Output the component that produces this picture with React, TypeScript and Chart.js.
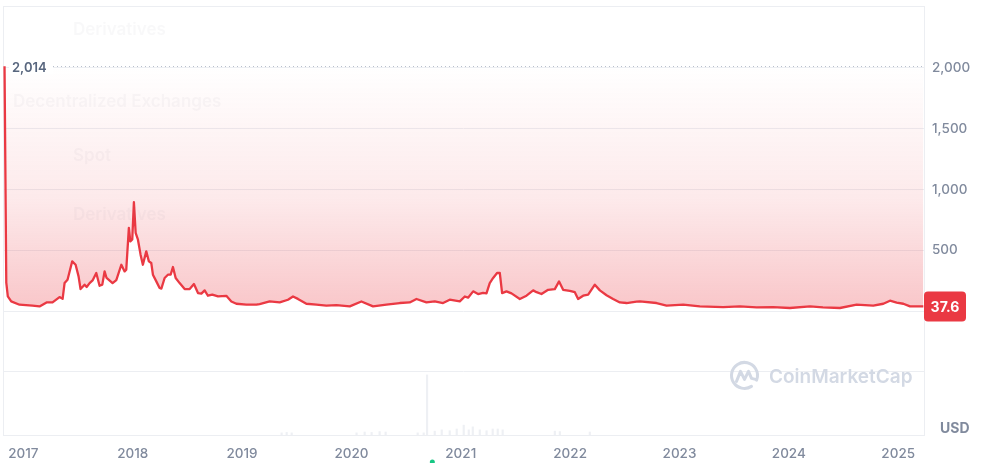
import { useEffect, useRef } from 'react';
import { Chart, registerables } from 'chart.js';

Chart.register(...registerables);

// ---- data (decimal years, USD) ----
const priceDates = [
  2016.828, 2016.844, 2016.858, 2016.889, 2016.965, 2017.084, 2017.148, 2017.212, 2017.267, 2017.331,
  2017.359, 2017.377, 2017.404, 2017.447, 2017.478, 2017.505, 2017.523, 2017.56, 2017.579, 2017.606,
  2017.633, 2017.667, 2017.697, 2017.722, 2017.743, 2017.761, 2017.816, 2017.85, 2017.896, 2017.926,
  2017.941, 2017.965, 2017.978, 2017.996, 2018.011, 2018.027, 2018.048, 2018.072, 2018.093, 2018.124,
  2018.148, 2018.17, 2018.185, 2018.216, 2018.246, 2018.262, 2018.292, 2018.322, 2018.347, 2018.368,
  2018.393, 2018.429, 2018.475, 2018.521, 2018.56, 2018.597, 2018.628, 2018.658, 2018.688, 2018.728,
  2018.78, 2018.856, 2018.902, 2018.948, 2019.039, 2019.131, 2019.161, 2019.252, 2019.344, 2019.42,
  2019.466, 2019.511, 2019.588, 2019.68, 2019.771, 2019.863, 2019.985, 2020.091, 2020.198, 2020.32,
  2020.442, 2020.533, 2020.595, 2020.686, 2020.762, 2020.838, 2020.899, 2020.991, 2021.037, 2021.067,
  2021.113, 2021.158, 2021.204, 2021.235, 2021.265, 2021.296, 2021.332, 2021.357, 2021.378, 2021.418,
  2021.464, 2021.54, 2021.601, 2021.662, 2021.693, 2021.738, 2021.799, 2021.86, 2021.899, 2021.936,
  2021.997, 2022.043, 2022.073, 2022.119, 2022.165, 2022.226, 2022.272, 2022.333, 2022.393, 2022.455,
  2022.516, 2022.607, 2022.638, 2022.79, 2022.882, 2023.034, 2023.186, 2023.4, 2023.552, 2023.705,
  2023.855, 2024.01, 2024.193, 2024.312, 2024.467, 2024.62, 2024.772, 2024.864, 2024.925, 2024.986,
  2025.047, 2025.108, 2025.23,
];
const priceValues = [
  2014, 233, 120, 79, 52, 44, 38, 71, 71, 115,
  100, 230, 258, 409, 381, 285, 181, 217, 198, 230,
  252, 313, 208, 217, 326, 272, 230, 255, 381, 326,
  340, 684, 573, 590, 895, 643, 587, 464, 381, 491,
  409, 395, 299, 244, 190, 185, 272, 299, 299, 362,
  272, 230, 181, 181, 222, 148, 143, 170, 126, 135,
  120, 125, 79, 60, 52, 52, 57, 79, 71, 93,
  120, 100, 60, 52, 44, 49, 38, 79, 38, 52,
  66, 71, 99, 71, 79, 66, 93, 79, 120, 110,
  162, 140, 150, 145, 230, 272, 313, 313, 148, 162,
  145, 99, 126, 170, 155, 140, 175, 180, 244, 175,
  165, 155, 99, 126, 135, 217, 170, 130, 99, 71,
  66, 77, 79, 66, 44, 52, 38, 33, 38, 30,
  33, 25, 38, 30, 25, 52, 44, 60, 85, 70,
  60, 38, 37.6,
];
const volumeDates = [
  2019.362, 2019.408, 2019.454, 2020.047, 2020.121, 2020.185, 2020.258, 2020.313, 2020.606, 2020.661,
  2020.692, 2020.762, 2020.826, 2020.899, 2020.963, 2021.027, 2021.073, 2021.11, 2021.174, 2021.236,
  2021.292, 2021.338, 2021.383, 2021.86, 2021.906, 2022.18,
];
const volumeValues = [
  5, 6, 5, 5, 7, 6, 8, 7, 5, 5,
  140, 9, 12, 10, 14, 23, 12, 19, 12, 10,
  14, 14, 12, 9, 8, 7,
];
const yearTicks = [2017, 2018, 2019, 2020, 2021, 2022, 2023, 2024, 2025];
const priceTicks = [-500, 0, 500, 1000, 1500, 2000];
const athValue = 2014;
const lastValue = 37.6;
const eventDate = 2020.74;
const ghostMenu = ['Derivatives', 'Decentralized Exchanges', 'Spot', 'Derivatives'];

const RED = '#ea3943';
const GRID = '#eceef2';
const FONT = 'Inter, "Noto Sans", sans-serif';

export default function App() {
  const ref = useRef<HTMLCanvasElement | null>(null);

  useEffect(() => {
    document.body.style.margin = '0';
    const canvas = ref.current;
    if (!canvas) return;

    const overlay = {
      id: 'cmcOverlay',
      beforeDatasetsDraw(chart: any) {
        const { ctx, chartArea: a } = chart;
        ctx.save();
        ctx.strokeStyle = GRID;
        ctx.lineWidth = 1;
        ctx.strokeRect(Math.round(a.left) + 0.5, Math.round(a.top) + 0.5, Math.round(a.right - a.left), Math.round(a.bottom - a.top));
        ctx.restore();
      },
      afterDatasetsDraw(chart: any) {
        const { ctx, chartArea: a, scales } = chart;
        const y = scales.y;
        const x = scales.x;
        ctx.save();

        // ghost menu text
        ctx.font = `600 17px ${FONT}`;
        ctx.fillStyle = 'rgba(90,90,110,0.045)';
        ctx.textBaseline = 'middle';
        ctx.textAlign = 'left';
        const ghostPos = [
          [73, 30],
          [13, 102],
          [73, 156],
          [73, 215],
        ];
        ghostMenu.forEach((t, i) => ctx.fillText(t, ghostPos[i][0], ghostPos[i][1]));

        // ATH dotted line + label
        const ay = Math.round(y.getPixelForValue(athValue)) + 0.5;
        ctx.strokeStyle = '#b8bfcc';
        ctx.lineWidth = 1;
        ctx.setLineDash([1, 3]);
        ctx.beginPath();
        ctx.moveTo(53, ay);
        ctx.lineTo(a.right, ay);
        ctx.stroke();
        ctx.setLineDash([]);
        ctx.fillStyle = '#ffffff';
        ctx.fillRect(a.left + 6, ay - 8, 44, 16);
        ctx.font = `600 13px ${FONT}`;
        ctx.fillStyle = '#58667e';
        ctx.textBaseline = 'middle';
        ctx.fillText(athValue.toLocaleString('en-US'), 12, ay + 1.5);

        // watermark
        const wy = (y.getPixelForValue(-500) + a.bottom) / 2 - 28;
        const cx = 744.5;
        ctx.strokeStyle = '#d3d9e4';
        ctx.lineWidth = 3;
        ctx.lineCap = 'round';
        ctx.lineJoin = 'round';
        ctx.beginPath();
        ctx.arc(cx, wy, 13, Math.PI * 0.32, Math.PI * 2.12);
        ctx.stroke();
        ctx.beginPath();
        ctx.moveTo(cx - 8, wy + 6);
        ctx.lineTo(cx - 4, wy - 4);
        ctx.lineTo(cx, wy + 4);
        ctx.lineTo(cx + 4, wy - 4);
        ctx.lineTo(cx + 7, wy + 3);
        ctx.lineTo(cx + 11, wy + 4);
        ctx.stroke();
        ctx.font = `600 19px ${FONT}`;
        ctx.fillStyle = '#d3d9e4';
        ctx.textBaseline = 'middle';
        ctx.fillText('CoinMarketCap', 769, wy + 1.5);

        // last value badge
        const ly = y.getPixelForValue(lastValue);
        ctx.fillStyle = RED;
        ctx.beginPath();
        (ctx as any).roundRect(a.right, ly - 15, 42, 30, 4);
        ctx.fill();
        ctx.fillStyle = '#ffffff';
        ctx.font = `700 14px ${FONT}`;
        ctx.textAlign = 'center';
        ctx.fillText(lastValue.toFixed(1), a.right + 21, ly + 1);

        // USD unit
        ctx.fillStyle = '#808a9d';
        ctx.font = `700 14px ${FONT}`;
        ctx.textAlign = 'left';
        ctx.fillText('USD', 940, a.bottom - 6);

        // event marker
        ctx.fillStyle = '#16c784';
        ctx.beginPath();
        ctx.arc(x.getPixelForValue(eventDate), chart.height - 1, 2.5, 0, Math.PI * 2);
        ctx.fill();

        ctx.restore();
      },
    };

    const chart = new Chart(canvas, {
      type: 'line',
      data: {
        datasets: [
          {
            type: 'line',
            label: 'Price',
            data: priceDates.map((d, i) => ({ x: d, y: priceValues[i] })),
            borderColor: RED,
            borderWidth: 2.3,
            pointRadius: 0,
            tension: 0,
            borderJoinStyle: 'round',
            fill: 'end',
            backgroundColor: (c: any) => {
              const ch = c.chart;
              const { ctx, chartArea, scales } = ch;
              if (!chartArea) return 'rgba(234,57,67,0.1)';
              const y0 = scales.y.getPixelForValue(athValue);
              const y1 = scales.y.getPixelForValue(0);
              const g = ctx.createLinearGradient(0, y0, 0, y1);
              g.addColorStop(0, 'rgba(234,57,67,0)');
              g.addColorStop(0.26, 'rgba(234,57,67,0.05)');
              g.addColorStop(0.55, 'rgba(234,57,67,0.11)');
              g.addColorStop(0.9, 'rgba(234,57,67,0.25)');
              g.addColorStop(1, 'rgba(234,57,67,0.29)');
              return g;
            },
            order: 1,
          } as any,
          {
            type: 'bar',
            label: 'Volume',
            data: volumeDates.map((d, i) => ({ x: d, y: volumeValues[i] })),
            yAxisID: 'yv',
            backgroundColor: '#eef0f4',
            barThickness: 1.5,
            order: 2,
          } as any,
        ],
      },
      options: {
        animation: false,
        responsive: false,
        devicePixelRatio: 1,
        layout: { padding: { left: 3, top: 6, right: 0, bottom: 0 } },
        plugins: { legend: { display: false }, tooltip: { enabled: false } },
        scales: {
          x: {
            type: 'linear',
            offset: false,
            min: 2016.814,
            max: 2025.236,
            grid: { display: false, drawTicks: false, offset: false },
            border: { display: false },
            afterBuildTicks: (s: any) => {
              s.ticks = yearTicks.map((v) => ({ value: v }));
            },
            afterFit: (s: any) => {
              s.height = 28;
              s.paddingLeft = 0;
              s.paddingRight = 0;
            },
            ticks: {
              autoSkip: false,
              maxRotation: 0,
              padding: 11,
              color: '#808a9d',
              font: { family: FONT, size: 13.5, weight: 500 as any },
              callback: (v: any) => String(v),
            },
          },
          y: {
            type: 'linear',
            position: 'right',
            min: -1020,
            max: 2510,
            grid: { color: GRID, drawTicks: false },
            border: { display: false },
            afterBuildTicks: (s: any) => {
              s.ticks = priceTicks.map((v) => ({ value: v }));
            },
            afterFit: (s: any) => {
              s.width = 61;
              s.paddingTop = 0;
              s.paddingBottom = 0;
            },
            ticks: {
              padding: 8,
              color: '#808a9d',
              font: { family: FONT, size: 13.5, weight: 500 as any },
              callback: (v: any) => (v >= 500 ? Number(v).toLocaleString('en-US') : ''),
            },
          },
          yv: {
            type: 'linear',
            display: false,
            min: 0,
            max: 1000,
          },
        },
      },
      plugins: [overlay],
    });

    return () => chart.destroy();
  }, []);

  return <canvas ref={ref} width={985} height={463} style={{ display: 'block' }} />;
}
